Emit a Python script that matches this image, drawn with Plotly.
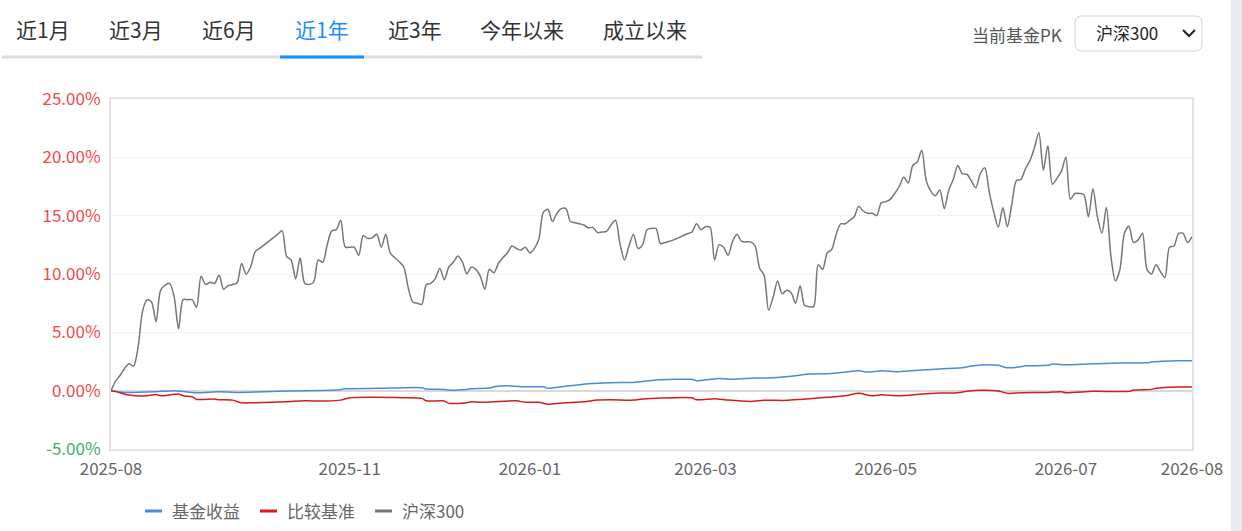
import plotly.graph_objects as go

# ---------------- data ----------------
tab_labels = ["近1月", "近3月", "近6月", "近1年", "近3年", "今年以来", "成立以来"]
active_tab = "近1年"
compare_label = "当前基金PK"
compare_choice = "沪深300"
series_names = ["基金收益", "比较基准", "沪深300"]

x_tick_days = [0, 53, 93, 132, 172, 212, 240]
x_tick_labels = ["2025-08", "2025-11", "2026-01", "2026-03", "2026-05", "2026-07", "2026-08"]
y_ticks = [-5, 0, 5, 10, 15, 20, 25]

# 沪深300 cumulative return (%), one value per trading day
hs300_pct = [
    0.0, 0.8, 1.3, 1.9, 2.3, 2.1, 3.7, 6.8, 7.8, 7.6,
    5.9, 8.6, 9.05, 9.2, 8.1, 5.3, 7.8, 7.8, 7.8, 7.15,
    9.8, 9.1, 9.3, 9.2, 9.9, 8.7, 9.0, 9.1, 9.25, 10.9,
    10.0, 10.6, 11.9, 12.2, 12.5, 12.8, 13.1, 13.4, 13.7, 11.5,
    11.2, 9.6, 11.4, 9.2, 9.1, 9.3, 11.2, 11.0, 12.5, 13.7,
    13.8, 14.6, 12.3, 12.3, 12.3, 11.6, 13.3, 13.05, 13.1, 13.4,
    12.3, 13.4, 11.8, 11.4, 11.05, 10.6, 8.8, 7.6, 7.5, 7.4,
    9.1, 9.2, 9.6, 10.5, 9.5, 10.6, 11.0, 11.55, 11.05, 10.0,
    10.6, 10.4, 9.8, 8.7, 10.4, 10.1, 10.9, 11.4, 11.8, 12.4,
    12.2, 12.05, 12.3, 11.8, 12.2, 13.0, 15.3, 15.55, 14.5, 15.2,
    15.6, 15.6, 14.5, 14.4, 14.3, 14.2, 13.95, 14.0, 13.55, 13.6,
    13.65, 14.2, 14.6, 12.6, 11.2, 12.4, 13.4, 12.2, 12.5, 13.8,
    13.9, 13.9, 12.6, 12.7, 12.8, 12.95, 13.1, 13.3, 13.45, 13.6,
    14.3, 13.8, 14.05, 14.0, 11.2, 12.5, 12.3, 11.6, 12.8, 13.4,
    12.8, 12.75, 12.75, 12.4, 10.5, 9.9, 6.9, 8.0, 9.4, 8.3,
    8.6, 8.4, 7.5, 9.0, 7.3, 7.2, 7.2, 10.8, 10.4, 11.8,
    12.1, 13.4, 14.3, 14.3, 14.6, 14.9, 15.8, 15.4, 15.2, 15.2,
    15.0, 16.1, 16.2, 16.4, 16.9, 17.5, 18.3, 17.8, 19.3, 19.6,
    20.6, 18.0, 17.1, 16.7, 17.2, 15.6, 17.2, 18.1, 19.3, 18.6,
    18.55, 18.0, 17.4, 18.6, 19.1, 17.0, 15.3, 14.0, 15.7, 14.05,
    16.0, 18.0, 18.1, 19.0, 19.7, 20.8, 22.1, 18.9, 21.0, 17.7,
    18.2, 18.8, 20.0, 16.4, 16.9, 16.9, 16.8, 14.9, 17.3, 14.9,
    13.5, 15.7, 11.5, 9.4, 10.4, 13.5, 14.1, 12.7, 12.9, 13.5,
    10.4, 10.0, 10.8, 10.2, 9.7, 12.3, 12.4, 13.45, 13.5, 12.7,
    13.2,
]
hs300_days = list(range(len(hs300_pct)))

# 基金收益 (%), sampled trading days
fund_days = [0, 3, 10, 14, 19, 24, 28, 32, 39, 50,
             52, 62, 69, 70, 74, 75, 79, 80, 84, 85,
             88, 91, 96, 97, 100, 106, 111, 116, 121, 129,
             130, 135, 138, 143, 147, 152, 155, 160, 163, 166,
             168, 171, 175, 180, 183, 186, 189, 191, 195, 197,
             199, 202, 203, 208, 209, 212, 217, 224, 230, 231,
             237, 240]
fund_pct = [0.0, -0.15, -0.09, 0.0, -0.18, -0.09, -0.15, -0.12, -0.03, 0.05,
            0.16, 0.22, 0.25, 0.14, 0.11, 0.05, 0.11, 0.16, 0.22, 0.33,
            0.42, 0.33, 0.33, 0.20, 0.33, 0.59, 0.68, 0.71, 0.91, 0.97,
            0.85, 1.05, 0.97, 1.08, 1.11, 1.28, 1.42, 1.48, 1.59, 1.71,
            1.59, 1.71, 1.62, 1.77, 1.83, 1.91, 1.96, 2.11, 2.22, 2.17,
            1.96, 2.05, 2.13, 2.17, 2.28, 2.22, 2.28, 2.37, 2.39, 2.45,
            2.56, 2.56]

# 比较基准 (%), sampled trading days
bench_days = [0, 1, 4, 8, 10, 11, 15, 16, 18, 19,
              23, 24, 27, 29, 32, 39, 43, 48, 51, 53,
              58, 65, 69, 70, 74, 75, 79, 80, 82, 85,
              90, 92, 95, 97, 100, 105, 108, 111, 116, 118,
              122, 129, 130, 134, 137, 142, 145, 150, 153, 157,
              163, 166, 169, 171, 175, 180, 184, 188, 190, 193,
              197, 199, 202, 208, 211, 212, 218, 226, 227, 231,
              232, 237, 240]
bench_pct = [0.0, -0.06, -0.38, -0.44, -0.32, -0.44, -0.29, -0.44, -0.52, -0.75,
             -0.72, -0.78, -0.81, -1.04, -1.04, -0.95, -0.87, -0.89, -0.81, -0.61,
             -0.57, -0.61, -0.66, -0.87, -0.89, -1.09, -1.04, -0.95, -1.0, -0.95,
             -0.87, -1.0, -1.0, -1.17, -1.06, -0.95, -0.81, -0.78, -0.81, -0.72,
             -0.63, -0.61, -0.78, -0.69, -0.81, -0.92, -0.83, -0.83, -0.75, -0.63,
             -0.44, -0.23, -0.44, -0.35, -0.44, -0.29, -0.21, -0.18, -0.06, 0.03,
             -0.03, -0.23, -0.18, -0.15, -0.09, -0.18, -0.06, -0.06, 0.05, 0.11,
             0.20, 0.31, 0.31]

# ---------------- layout helpers ----------------
W, H = 1242, 531
PL, PR, PT, PB = 111, 1192, 99, 449
FONT = "Noto Sans CJK SC, Noto Sans, sans-serif"


def fx(px):
    return (px - PL) / (PR - PL)


def fy(py):
    return (PB - py) / (PB - PT)


BLUE = "#4a8bd8"
RED = "#d61c1c"
GRAY = "#777777"
POS = "#f04a4a"
NEG = "#3fae6a"
colors = [BLUE, RED, GRAY]

fig = go.Figure()
fig.add_trace(go.Scatter(x=fund_days, y=fund_pct, mode="lines", name=series_names[0],
                         line=dict(color=BLUE, width=1.5, shape="spline", smoothing=0.6)))
fig.add_trace(go.Scatter(x=bench_days, y=bench_pct, mode="lines", name=series_names[1],
                         line=dict(color=RED, width=1.5, shape="spline", smoothing=0.6)))
fig.add_trace(go.Scatter(x=hs300_days, y=hs300_pct, mode="lines", name=series_names[2],
                         line=dict(color=GRAY, width=1.5, shape="spline", smoothing=0.8)))

y_ticktext = ['<span style="color:%s">%.2f%%</span>' % (POS if v >= 0 else NEG, v) for v in y_ticks]

fig.update_layout(
    width=W, height=H,
    margin=dict(l=PL, r=W - PR, t=PT, b=H - PB, pad=0, autoexpand=False),
    paper_bgcolor="white", plot_bgcolor="white",
    font=dict(family=FONT, size=17, color="#666666"),
    showlegend=False,
    xaxis=dict(range=[0, len(hs300_pct) - 1], tickmode="array", tickvals=x_tick_days,
               ticktext=x_tick_labels, showgrid=False, zeroline=False,
               showline=True, mirror=True, linecolor="#e3e3e3", linewidth=2,
               ticks="", tickfont=dict(size=17, color="#666666"), ticklabelstandoff=4,
               fixedrange=True),
    yaxis=dict(range=[-5, 25], tickmode="array", tickvals=y_ticks, ticktext=y_ticktext,
               showgrid=True, gridcolor="#f2f2f2", gridwidth=1,
               zeroline=True, zerolinecolor="#d9d9d9", zerolinewidth=2,
               showline=True, mirror=True, linecolor="#e3e3e3", linewidth=2,
               ticks="", tickfont=dict(size=17), ticklabelstandoff=5, fixedrange=True),
)

shapes = []
annotations = []

# right page strip
shapes.append(dict(type="rect", xref="paper", yref="paper", x0=fx(1231), x1=fx(1242 + 5),
                   y0=fy(H + 5), y1=fy(-5), fillcolor="#e9ebef", line=dict(width=0), layer="below"))

# tabs
tab_centers = [43, 136, 229, 322, 415, 522, 645]
for label, cx in zip(tab_labels, tab_centers):
    annotations.append(dict(text=label, x=fx(cx), y=fy(29), xref="paper", yref="paper",
                            showarrow=False, xanchor="center", yanchor="middle",
                            font=dict(family=FONT, size=21,
                                      color="#1890ff" if label == active_tab else "#333333")))
shapes.append(dict(type="line", xref="paper", yref="paper", x0=fx(2), x1=fx(702),
                   y0=fy(57), y1=fy(57), line=dict(color="#dcdcdc", width=3)))
shapes.append(dict(type="line", xref="paper", yref="paper", x0=fx(280), x1=fx(364),
                   y0=fy(57), y1=fy(57), line=dict(color="#1890ff", width=3)))

# compare selector
annotations.append(dict(text=compare_label, x=fx(1064), y=fy(34), xref="paper", yref="paper",
                        showarrow=False, xanchor="right", yanchor="middle",
                        font=dict(family=FONT, size=17, color="#555555")))
bx0, bx1, by0, by1, rr = 1075, 1202, 16, 51, 7
path = ("M {a},{b} L {c},{b} Q {d},{b} {d},{e} L {d},{f} Q {d},{g} {c},{g} "
        "L {a},{g} Q {h},{g} {h},{f} L {h},{e} Q {h},{b} {a},{b} Z").format(
    a=fx(bx0 + rr), b=fy(by0), c=fx(bx1 - rr), d=fx(bx1), e=fy(by0 + rr),
    f=fy(by1 - rr), g=fy(by1), h=fx(bx0))
shapes.append(dict(type="path", xref="paper", yref="paper", path=path,
                   line=dict(color="#cfd3da", width=1), fillcolor="white"))
annotations.append(dict(text=compare_choice, x=fx(1094), y=fy(33), xref="paper", yref="paper",
                        showarrow=False, xanchor="left", yanchor="middle",
                        font=dict(family=FONT, size=17, color="#222222")))
chev = "M {},{} L {},{} L {},{}".format(fx(1183), fy(30), fx(1189), fy(36), fx(1195), fy(30))
shapes.append(dict(type="path", xref="paper", yref="paper", path=chev,
                   line=dict(color="#222222", width=2)))

# legend (drawn as swatch + label)
legend_swatch_x = [145, 260, 375]
for name, col, sx in zip(series_names, colors, legend_swatch_x):
    shapes.append(dict(type="line", xref="paper", yref="paper", x0=fx(sx), x1=fx(sx + 17),
                       y0=fy(511), y1=fy(511), line=dict(color=col, width=3)))
    annotations.append(dict(text=name, x=fx(sx + 25), y=fy(511), xref="paper", yref="paper",
                            showarrow=False, xanchor="left", yanchor="middle",
                            font=dict(family=FONT, size=17, color="#666666")))

fig.update_layout(shapes=shapes, annotations=annotations)

fig.write_html("out.html", config={"displayModeBar": False},
               post_script="document.body.style.margin='0';document.body.style.overflow='hidden';")
